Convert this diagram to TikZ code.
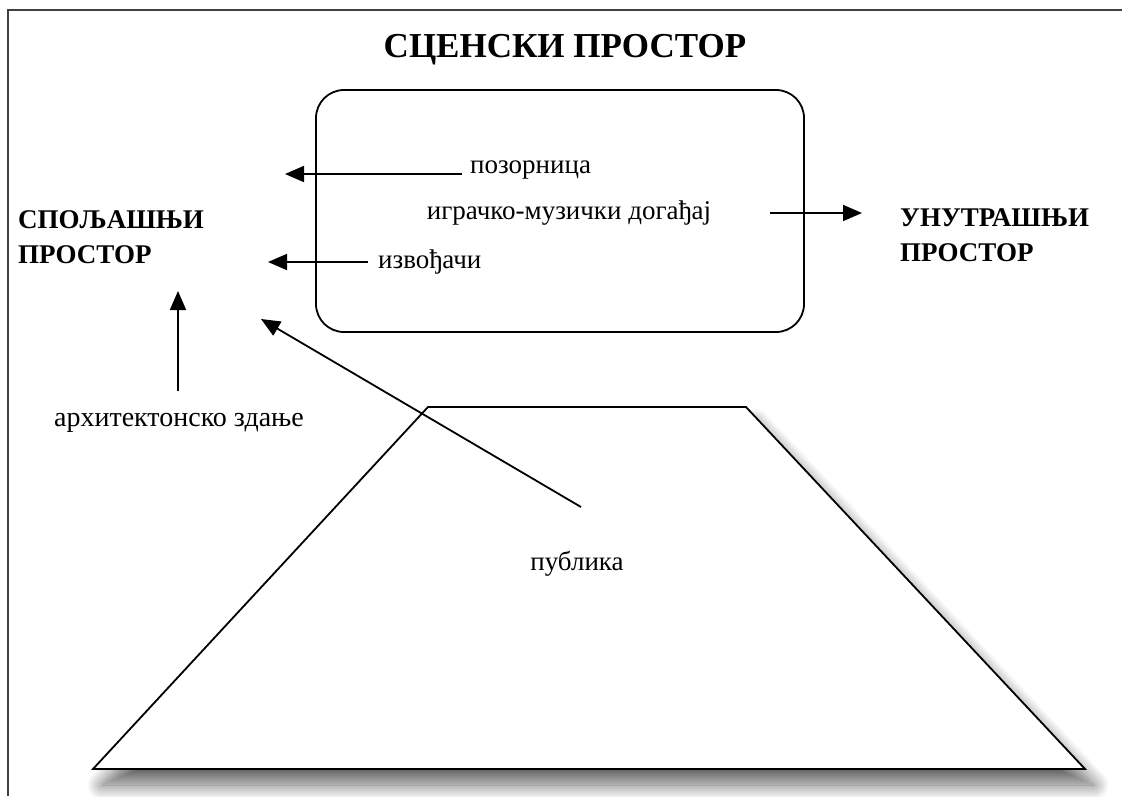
\documentclass[tikz,border=0pt]{standalone}
\usepackage{fontspec}
\setmainfont{Liberation Serif}
\usetikzlibrary{arrows.meta,shadows.blur}
\tikzset{
  lbl/.style={inner sep=0pt, font=\fontsize{27}{32}\selectfont},
  bold/.style={inner sep=0pt, font=\fontsize{27}{32}\selectfont\bfseries, align=left},
  arr/.style={line width=1.8pt, draw=black, -{Triangle[length=19pt,width=16pt,fill=black]}},
  frame/.style={line width=2.4pt, draw=black!75},
}
\begin{document}
\begin{tikzpicture}[x=1pt,y=-1pt]
\useasboundingbox (0,0) rectangle (1122,796);
% frame
\draw[frame] (8,796) -- (8,10) -- (1122,10);
% title
\node[inner sep=0pt, font=\fontsize{35}{40}\selectfont\bfseries] (title) at (565,50) {СЦЕНСКИ ПРОСТОР};
% stage box
\node[draw, line width=1.8pt, rounded corners=28pt, minimum width=488pt, minimum height=242pt, inner sep=0pt] (stage) at (560,211) {};
% trapezoid audience
\draw[line width=1.8pt, fill=white, blur shadow={shadow xshift=9pt, shadow yshift=-16pt, shadow blur radius=15pt, shadow blur steps=20, shadow opacity=60}]
  (428,407) -- (746,407) -- (1085,769) -- (93,769) -- cycle;
% texts
\node[lbl, anchor=west] (poz) at (470,170) {позорница};
\node[lbl] (igr) at (569,213) {играчко-музички догађај};
\node[lbl, anchor=west] (izv) at (378,262) {извођачи};
\node[bold, anchor=west] (spo) at (18,220) {СПОЉАШЊИ};
\node[bold, anchor=west] (spo2) at (18,255) {ПРОСТОР};
\node[bold, anchor=west] (unu) at (900,218) {УНУТРАШЊИ};
\node[bold, anchor=west] (unu2) at (900,253) {ПРОСТОР};
\node[lbl, font=\fontsize{28}{32}\selectfont] (arh) at (179,423) {архитектонско здање};
\node[lbl] (pub) at (577,564) {публика};
% arrow endpoints
\coordinate (a1) at (285,174);
\coordinate (a2) at (268,262);
\coordinate (r0) at (770,213);
\coordinate (r1) at (862,213);
\coordinate (u1) at (178,291);
\coordinate (d0) at (581,507);
\coordinate (d1) at (261,319);
% arrows
\draw[arr] (poz.west |- a1) ++(-8,0) coordinate (p0) (p0) -- (a1);
\draw[arr] (izv.west) ++(-10,0) coordinate (i0) (i0) -- (a2);
\draw[arr] (r0) -- (r1);
\draw[arr] (arh.north -| u1) ++(0,-22) coordinate (h0) (h0) -- (u1);
\draw[arr] (d0) -- (d1);
\end{tikzpicture}
\end{document}
